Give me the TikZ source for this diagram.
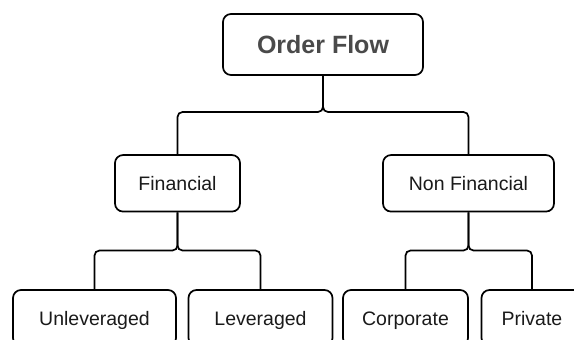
\documentclass[tikz,border=0pt]{standalone}
\usepackage{fontspec}
\setmainfont{Liberation Sans}
\definecolor{titlegray}{HTML}{4A4A4A}
\definecolor{inkblack}{HTML}{1A1A1A}
\tikzset{
  box/.style={draw=black, line width=1.7pt, rounded corners=8pt, fill=white,
    inner sep=0pt, align=center, text=inkblack, text height=14pt, text depth=0pt,
    font=\fontsize{19.5}{22}\selectfont},
  conn/.style={draw=black, line width=1.7pt, rounded corners=5pt},
}
\begin{document}
\begin{tikzpicture}[x=1pt, y=-1pt]
\useasboundingbox (0,0) rectangle (574,340);
\clip (0,0) rectangle (574,340);

% tree levels
\node[box, minimum width=200pt, minimum height=61pt, text height=17.9pt,
      font=\fontsize{25}{28}\selectfont\bfseries, text=titlegray]
  (root) at (323,44.5) {Order Flow};

\node[box, minimum width=125pt, minimum height=56.5pt] (fin) at (177.5,183.3) {Financial};
\node[box, minimum width=171pt, minimum height=56.5pt] (nonfin) at (468.5,183.3) {Non Financial};

\node[box, minimum width=163pt, minimum height=56pt] (unlev) at (94.5,318) {Unleveraged};
\node[box, minimum width=144pt, minimum height=56pt] (lev) at (260.5,318) {Leveraged};
\node[box, minimum width=125pt, minimum height=56pt] (corp) at (405.5,318) {Corporate};
\node[box, minimum width=101pt, minimum height=56pt] (priv) at (532,318) {Private};

% branching connectors
\coordinate (j0) at (323,112);
\coordinate (j1) at (177.5,250.5);
\coordinate (j2) at (468.5,250.5);

\draw[conn] (root.south) -- (j0) -| (fin.north);
\draw[conn] (root.south) -- (j0) -| (nonfin.north);
\draw[conn] (fin.south) -- (j1) -| (unlev.north);
\draw[conn] (fin.south) -- (j1) -| (lev.north);
\draw[conn] (nonfin.south) -- (j2) -| (corp.north);
\draw[conn] (nonfin.south) -- (j2) -| (priv.north);
\end{tikzpicture}
\end{document}
